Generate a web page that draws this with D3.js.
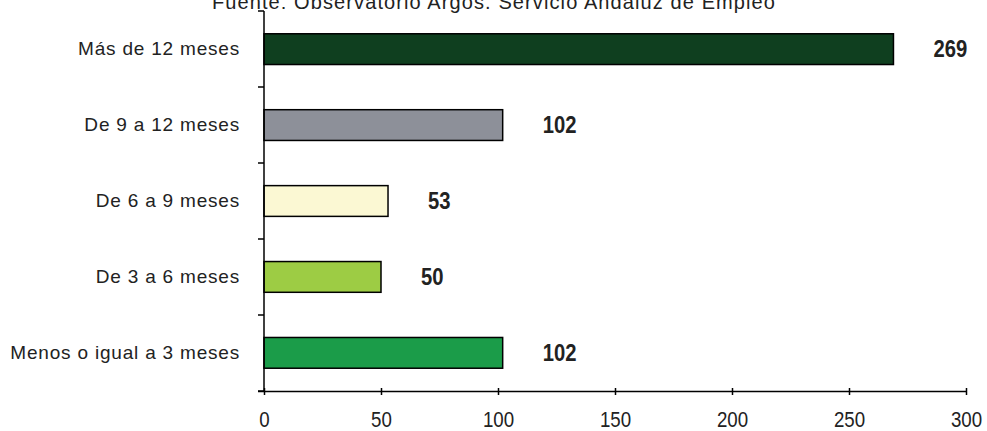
<!DOCTYPE html>
<html><head><meta charset="utf-8">
<script src="https://cdn.jsdelivr.net/npm/d3@7"></script>
<style>
body{margin:0;background:#fff;}
svg{display:block;}
</style></head>
<body><svg id="c" width="987" height="431"></svg>
<script>
const title = "Fuente: Observatorio Argos. Servicio Andaluz de Empleo";
const categories = ["Más de 12 meses","De 9 a 12 meses","De 6 a 9 meses","De 3 a 6 meses","Menos o igual a 3 meses"];
const values = [269,102,53,50,102];
const colors = ["#0f3f1f","#8d9099","#fbf8d3","#9dcc44","#1b9c49"];
const xTicks = [0,50,100,150,200,250,300];

(function(){
const svg = d3.select("#c");
const pL = 264, pR = 966, pT = 11, pB = 391;
const x = d3.scaleLinear().domain([0,300]).range([pL,pR]);
const y = d3.scaleBand().domain(categories).range([pT,pB]).paddingInner(0.595).paddingOuter(0.3);

svg.append("text").attr("x",494).attr("y",9).attr("text-anchor","middle")
  .attr("font-family","Liberation Sans, Arial, sans-serif").attr("font-size",20)
  .attr("letter-spacing","1.1").attr("fill","#222")
  .text(title);

svg.selectAll("rect.bar").data(values).enter().append("rect")
  .attr("x",x(0)).attr("y",(d,i)=>y(categories[i]))
  .attr("width",d=>x(d)-x(0)).attr("height",y.bandwidth())
  .attr("fill",(d,i)=>colors[i]).attr("stroke","#000").attr("stroke-width",1.5);

svg.selectAll("text.val").data(values).enter().append("text")
  .attr("transform",(d,i)=>`translate(${x(d)+40},${y(categories[i])+y.bandwidth()/2+8}) scale(0.88,1)`)
  .attr("font-family","Liberation Sans, Arial, sans-serif").attr("font-weight","bold")
  .attr("font-size",23).attr("fill","#222").text(d=>d);

const yTickPos = d3.range(categories.length+1).map(i=>pT+i*(pB-pT)/categories.length);
svg.append("line").attr("x1",pL).attr("x2",pL).attr("y1",pT).attr("y2",pB+1).attr("stroke","#000").attr("stroke-width",1.5);
svg.selectAll("line.yt").data(yTickPos).enter().append("line")
  .attr("x1",pL-6).attr("x2",pL).attr("y1",d=>d).attr("y2",d=>d).attr("stroke","#000").attr("stroke-width",1.5);
svg.selectAll("text.cat").data(categories).enter().append("text")
  .attr("x",240).attr("y",d=>y(d)+y.bandwidth()/2+6)
  .attr("text-anchor","end").attr("font-family","Liberation Sans, Arial, sans-serif")
  .attr("font-size",19).attr("letter-spacing","0.8").attr("fill","#222").text(d=>d);

const xa = svg.append("g").attr("transform",`translate(0,${pB})`)
  .call(d3.axisBottom(x).tickValues(xTicks).tickSize(6).tickSizeOuter(0));
xa.select(".domain").attr("stroke","#000").attr("stroke-width",1.5).attr("d",`M${pL-6},0.5H${pR}`);
xa.selectAll(".tick line").attr("stroke","#000").attr("stroke-width",1.5).attr("y1",-3).attr("y2",4);
xa.selectAll(".tick text").attr("y",null).attr("dy",null)
  .attr("transform","translate(0,36) scale(0.85,1)")
  .attr("font-family","Liberation Sans, Arial, sans-serif")
  .attr("font-size",22).attr("fill","#222");
})();
</script></body></html>
